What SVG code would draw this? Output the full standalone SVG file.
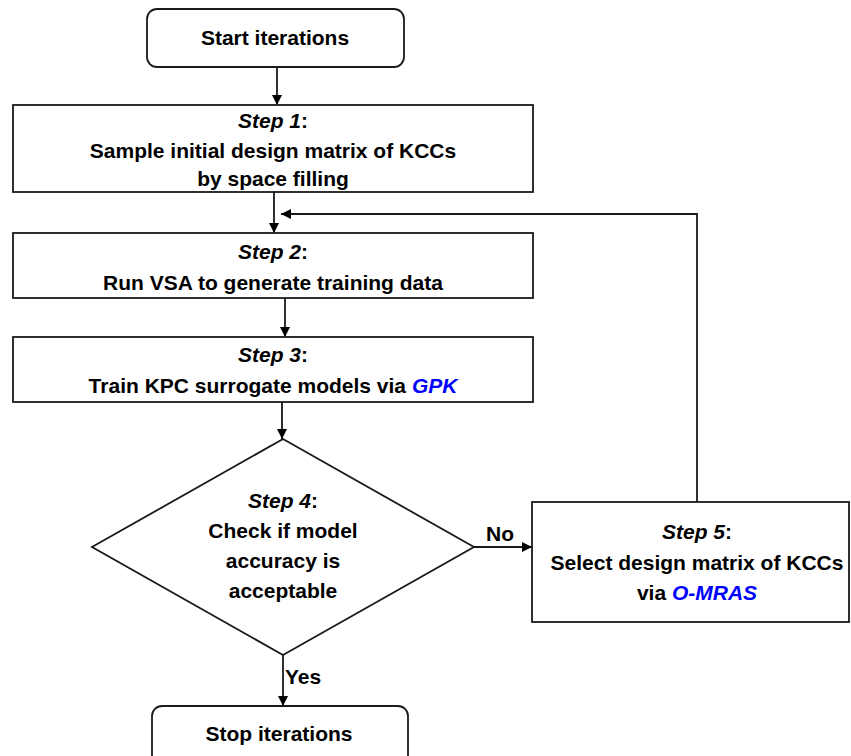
<svg xmlns="http://www.w3.org/2000/svg" width="851" height="756" viewBox="0 0 851 756">
<style>
.box{fill:#fff;stroke:#1a1a1a;stroke-width:1.8}
.t{font-family:"Liberation Sans",Arial,sans-serif;font-weight:bold;font-size:21px;fill:#000;text-anchor:middle}
.i{font-style:italic}
.b{fill:#0000ff;font-style:italic}
.ln{fill:none;stroke:#1a1a1a;stroke-width:1.8}
</style>
<defs>
<marker id="ah" viewBox="0 0 10 10" refX="10" refY="5" markerWidth="10" markerHeight="10" markerUnits="userSpaceOnUse" orient="auto">
<path d="M0,0 L10,5 L0,10 z" fill="#000"/>
</marker>
</defs>
<g id="connectors">
<line class="ln" x1="277" y1="67" x2="277" y2="105" marker-end="url(#ah)"/>
<line class="ln" x1="274" y1="192" x2="274" y2="233" marker-end="url(#ah)"/>
<polyline class="ln" points="697,502 697,214 281,214" marker-end="url(#ah)"/>
<line class="ln" x1="285" y1="298" x2="285" y2="337" marker-end="url(#ah)"/>
<line class="ln" x1="282" y1="402" x2="282" y2="439" marker-end="url(#ah)"/>
<line class="ln" x1="474" y1="547" x2="532" y2="547" marker-end="url(#ah)"/>
<line class="ln" x1="283" y1="655" x2="283" y2="706" marker-end="url(#ah)"/>
<text class="t" x="500" y="541">No</text>
<text class="t" x="303" y="684">Yes</text>
</g>
<g id="start">
<rect class="box" x="147" y="9" width="257" height="58" rx="10"/>
<text class="t" x="275" y="45">Start iterations</text>
</g>
<g id="step1">
<rect class="box" x="13" y="105" width="520" height="87"/>
<text class="t" x="273" y="128"><tspan class="i">Step 1</tspan>:</text>
<text class="t" x="273" y="158">Sample initial design matrix of KCCs</text>
<text class="t" x="273" y="186">by space filling</text>
</g>
<g id="step2">
<rect class="box" x="13" y="233" width="520" height="65"/>
<text class="t" x="273" y="259"><tspan class="i">Step 2</tspan>:</text>
<text class="t" x="273" y="290">Run VSA to generate training data</text>
</g>
<g id="step3">
<rect class="box" x="13" y="337" width="520" height="65"/>
<text class="t" x="273" y="362"><tspan class="i">Step 3</tspan>:</text>
<text class="t" x="273" y="393">Train KPC surrogate models via <tspan class="b">GPK</tspan></text>
</g>
<g id="step4">
<polygon class="box" points="283,439 474,547 283,655 92,547"/>
<text class="t" x="283" y="508"><tspan class="i">Step 4</tspan>:</text>
<text class="t" x="283" y="538">Check if model</text>
<text class="t" x="283" y="568">accuracy is</text>
<text class="t" x="283" y="598">acceptable</text>
</g>
<g id="step5">
<rect class="box" x="532" y="502" width="317" height="120"/>
<text class="t" x="697" y="539"><tspan class="i">Step 5</tspan>:</text>
<text class="t" x="697" y="570">Select design matrix of KCCs</text>
<text class="t" x="697" y="600">via <tspan class="b">O-MRAS</tspan></text>
</g>
<g id="stop">
<rect class="box" x="152" y="706" width="256" height="60" rx="10"/>
<text class="t" x="279" y="741">Stop iterations</text>
</g>
</svg>
